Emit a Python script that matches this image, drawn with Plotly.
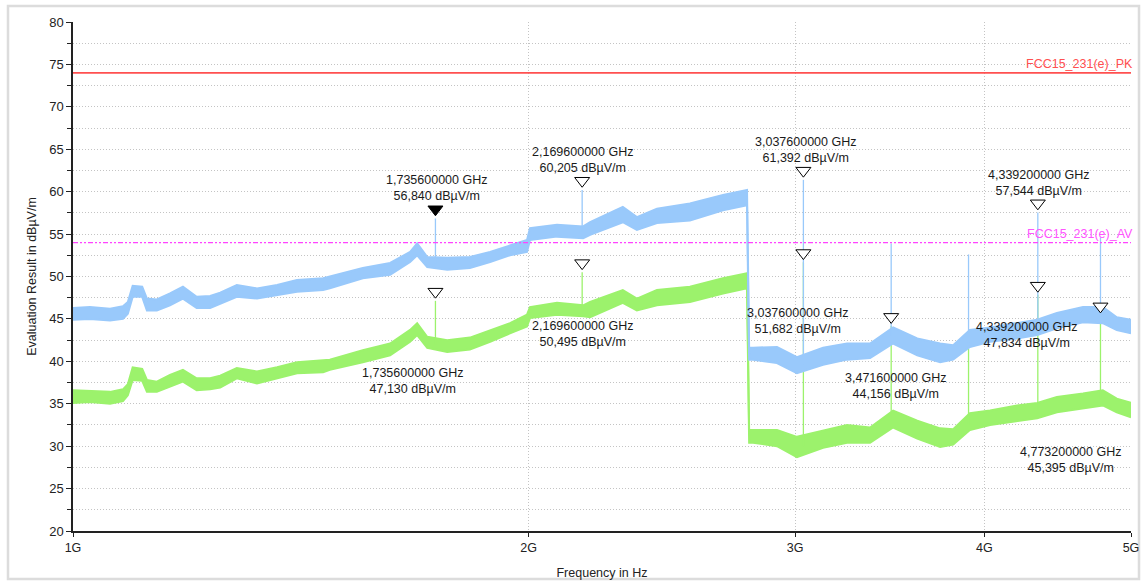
import math
import plotly.graph_objects as go

# ---------------- data ----------------
# Peak trace (blue): frequency in GHz with lower / upper edge of the noisy band in dBuV/m
pk_freq = [1.000, 1.026, 1.058, 1.079, 1.087, 1.095, 1.111, 1.119, 1.136, 1.159,
           1.182, 1.207, 1.232, 1.251, 1.283, 1.323, 1.364, 1.406, 1.463, 1.478,
           1.554, 1.620, 1.670, 1.688, 1.714, 1.767, 1.829, 1.886, 1.944, 1.995,
           2.004, 2.088, 2.173, 2.196, 2.308, 2.358, 2.431, 2.556, 2.688, 2.788,
           2.797, 2.814, 2.918, 3.008, 3.130, 3.246, 3.362, 3.482, 3.612, 3.740,
           3.815, 3.913, 4.035, 4.204, 4.335, 4.467, 4.648, 4.790, 4.893, 5.000]
pk_low = [44.9, 45.0, 44.8, 45.0, 45.6, 47.6, 47.6, 46.0, 46.0, 46.6,
          47.4, 46.3, 46.3, 46.8, 47.6, 47.4, 47.8, 48.2, 48.4, 48.6,
          49.8, 50.2, 51.7, 52.5, 51.1, 50.8, 51.0, 51.7, 52.5, 52.9,
          54.3, 54.7, 54.5, 54.9, 56.4, 55.5, 56.3, 56.6, 57.8, 58.4,
          40.2, 40.2, 39.8, 38.6, 39.6, 40.2, 40.4, 42.1, 40.7, 39.9,
          40.2, 41.7, 42.3, 42.7, 43.1, 43.9, 44.6, 44.5, 43.7, 43.3]
pk_high = [46.3, 46.4, 46.2, 46.5, 47.0, 48.9, 48.8, 47.4, 47.3, 48.0,
           48.8, 47.6, 47.7, 48.1, 49.0, 48.6, 49.0, 49.6, 49.8, 50.0,
           51.0, 51.6, 52.9, 53.9, 52.3, 52.2, 52.3, 52.9, 53.7, 54.3,
           55.7, 56.1, 55.9, 56.4, 58.2, 57.0, 58.0, 58.6, 59.6, 60.2,
           41.6, 41.6, 41.7, 40.5, 41.6, 42.1, 42.1, 44.0, 42.7, 42.1,
           41.9, 43.7, 44.0, 44.5, 44.9, 45.7, 46.4, 46.4, 45.2, 44.9]

# Average trace (green)
av_freq = pk_freq
av_low = [35.1, 35.2, 35.0, 35.3, 36.0, 37.8, 37.7, 36.4, 36.4, 37.0,
          37.6, 36.6, 36.7, 36.9, 38.0, 37.4, 38.0, 38.6, 38.7, 39.0,
          39.9, 40.7, 42.3, 43.1, 41.6, 41.1, 41.4, 42.3, 43.3, 44.1,
          45.1, 45.5, 45.3, 45.2, 46.9, 46.0, 46.6, 47.0, 48.0, 48.6,
          30.4, 30.4, 30.0, 28.7, 29.8, 30.4, 30.4, 32.2, 30.9, 29.9,
          30.2, 31.9, 32.5, 33.0, 33.3, 34.0, 34.5, 34.8, 34.0, 33.4]
av_high = [36.6, 36.5, 36.4, 36.7, 37.3, 39.3, 39.1, 37.8, 37.6, 38.4,
           39.0, 38.0, 38.0, 38.3, 39.2, 38.8, 39.3, 39.9, 40.1, 40.2,
           41.3, 42.1, 43.7, 44.5, 42.9, 42.5, 42.8, 43.7, 44.5, 45.5,
           46.4, 46.9, 46.6, 47.0, 48.4, 47.4, 48.4, 48.8, 49.8, 50.4,
           31.9, 31.9, 31.9, 31.1, 31.8, 32.5, 32.2, 34.2, 33.0, 32.1,
           32.0, 33.9, 34.2, 34.8, 35.1, 35.8, 36.2, 36.6, 35.6, 35.1]

# Narrow spikes: frequency GHz, base (inside band), top
pk_spike_freq = [1.7356, 2.1696, 3.0376, 3.4716, 3.9052, 4.3392, 4.7732]
pk_spike_base = [51.5, 55.2, 39.6, 43.0, 42.2, 44.0, 45.4]
pk_spike_top = [56.840, 60.205, 61.392, 53.9, 52.6, 57.544, 54.6]
av_spike_freq = [1.7356, 2.1696, 3.0376, 3.4716, 3.9052, 4.3392, 4.7732]
av_spike_base = [42.0, 45.9, 30.0, 33.0, 32.5, 34.2, 35.6]
av_spike_top = [47.130, 50.495, 51.682, 44.156, 41.5, 47.834, 45.395]

# Markers
pk_mark_freq = [1.7356, 2.1696, 3.0376, 4.3392]
pk_mark_val = [56.840, 60.205, 61.392, 57.544]
pk_mark_filled = [True, False, False, False]
av_mark_freq = [1.7356, 2.1696, 3.0376, 3.4716, 4.3392, 4.7732]
av_mark_val = [47.130, 50.495, 51.682, 44.156, 47.834, 45.395]

# Limit lines
limit_pk = 74.0
limit_av = 54.0
limit_pk_name = "FCC15_231(e)_PK"
limit_av_name = "FCC15_231(e)_AV"

x_tick_vals = [1, 2, 3, 4, 5]
x_tick_text = ["1G", "2G", "3G", "4G", "5G"]

# ---------------- styling ----------------
W, H = 1146, 582
ML, MR, MT, MB = 73, 15, 22, 51
YMIN, YMAX = 20, 80
BLUE = "#99c9fb"
GREEN = "#9cf26c"
FONT = "Liberation Sans, Arial, sans-serif"
MARKER_SIZE = 13
GRID = "#c4c4c4"
GRID_DASH = "1px,2px"
BAND_EDGE = 2
# label placement tweaks (pixels)
pk_lab_dx = [1, 0, 2, 1]
pk_lab_dy = [13, 13, 13, 13]
av_lab_dx = [-23, 0, -6, 4, -11, -30]
av_lab_dy = [-63, -45, -42, -43, -23, -127]

plot_h = H - MT - MB
plot_w = W - ML - MR
px_per_db = plot_h / (YMAX - YMIN)
tip_px = 1.414 * MARKER_SIZE / 2
tip_db = tip_px / px_per_db


def ghz(v):
    return [f * 1e9 for f in v]


def lg(f_ghz):
    # annotation x position on a log axis is given in log10 units
    return math.log10(f_ghz * 1e9)


def spike_xy(freqs, bases, tops):
    xs, ys = [], []
    for f, b, t in zip(freqs, bases, tops):
        xs += [f * 1e9, f * 1e9, None]
        ys += [b, t, None]
    return xs, ys


def fmt(v, d):
    return f"{v:.{d}f}".replace(".", ",")


fig = go.Figure()


def add_band(freq, low, high, color):
    fig.add_trace(go.Scatter(x=ghz(freq), y=low, mode="lines",
                             line=dict(color=color, width=BAND_EDGE), hoverinfo="skip",
                             showlegend=False))
    fig.add_trace(go.Scatter(x=ghz(freq), y=high, mode="lines",
                             line=dict(color=color, width=BAND_EDGE), fill="tonexty",
                             fillcolor=color, hoverinfo="skip", showlegend=False))


# average (green) first, peak (blue) on top
add_band(av_freq, av_low, av_high, GREEN)
sx, sy = spike_xy(av_spike_freq, av_spike_base, av_spike_top)
fig.add_trace(go.Scatter(x=sx, y=sy, mode="lines", line=dict(color=GREEN, width=1.3),
                         showlegend=False, hoverinfo="skip"))
add_band(pk_freq, pk_low, pk_high, BLUE)
sx, sy = spike_xy(pk_spike_freq, pk_spike_base, pk_spike_top)
fig.add_trace(go.Scatter(x=sx, y=sy, mode="lines", line=dict(color=BLUE, width=1.3),
                         showlegend=False, hoverinfo="skip"))

# limit lines
fig.add_trace(go.Scatter(x=[1e9, 5e9], y=[limit_pk, limit_pk], mode="lines",
                         line=dict(color="#ff5050", width=1.6), showlegend=False))
fig.add_trace(go.Scatter(x=[1e9, 5e9], y=[limit_av, limit_av], mode="lines",
                         line=dict(color="#ff44ff", width=1.3, dash="5px,2px,2px,2px,2px,2px"),
                         showlegend=False))

# markers (triangle tip on the value)
all_f = pk_mark_freq + av_mark_freq
all_v = pk_mark_val + av_mark_val
all_fill = pk_mark_filled + [False] * len(av_mark_freq)
fig.add_trace(go.Scatter(
    x=ghz(all_f), y=[v + tip_db for v in all_v], mode="markers",
    marker=dict(symbol="triangle-down", size=MARKER_SIZE,
                color=["black" if f else "white" for f in all_fill],
                line=dict(color="black", width=1)),
    showlegend=False, hoverinfo="skip"))

annotations = []
for f, v, dx, dy in zip(pk_mark_freq, pk_mark_val, pk_lab_dx, pk_lab_dy):
    annotations.append(dict(x=lg(f), y=v, xref="x", yref="y", showarrow=False,
                            xanchor="center", yanchor="bottom", xshift=dx, yshift=dy,
                            text=f"{fmt(f, 9)} GHz<br>{fmt(v, 3)} dBµV/m",
                            font=dict(size=12.5, color="#1a1a1a", family=FONT)))
for f, v, dx, dy in zip(av_mark_freq, av_mark_val, av_lab_dx, av_lab_dy):
    annotations.append(dict(x=lg(f), y=v, xref="x", yref="y", showarrow=False,
                            xanchor="center", yanchor="top", xshift=dx, yshift=dy,
                            text=f"{fmt(f, 9)} GHz<br>{fmt(v, 3)} dBµV/m",
                            font=dict(size=12.5, color="#1a1a1a", family=FONT)))
annotations.append(dict(x=lg(5), y=limit_pk, xref="x", yref="y", showarrow=False,
                        xanchor="right", yanchor="bottom", xshift=4, yshift=0,
                        text=limit_pk_name, font=dict(size=12.5, color="#ff5050", family=FONT)))
annotations.append(dict(x=lg(5), y=limit_av, xref="x", yref="y", showarrow=False,
                        xanchor="right", yanchor="bottom", xshift=4, yshift=0,
                        text=limit_av_name, font=dict(size=12.5, color="#ff55ff", family=FONT)))

shapes = [dict(type="rect", xref="paper", yref="paper",
               x0=(8 - ML) / plot_w, x1=(1139 - ML) / plot_w,
               y0=-(579 - (H - MB)) / plot_h, y1=((H - MB) - 6) / plot_h,
               line=dict(color="#dcdcdc", width=2.5), layer="below")]

fig.update_layout(
    width=W, height=H,
    margin=dict(l=ML, r=MR, t=MT, b=MB, autoexpand=False),
    paper_bgcolor="white", plot_bgcolor="white",
    font=dict(family=FONT, size=12, color="#222"),
    annotations=annotations, shapes=shapes,
    showlegend=False,
)
fig.update_xaxes(
    type="log", range=[9, math.log10(5e9)], automargin=False,
    tickvals=ghz(x_tick_vals), ticktext=x_tick_text,
    showgrid=True, gridcolor=GRID, griddash=GRID_DASH, gridwidth=1,
    showline=True, linecolor="#222", linewidth=1.5,
    ticks="outside", ticklen=4, tickcolor="#222",
    tickfont=dict(size=12.5, color="#222"),
    title=dict(text="Frequency in Hz", font=dict(size=12.5, color="#222"), standoff=14),
    zeroline=False,
)
fig.update_yaxes(
    range=[YMIN, YMAX], dtick=5, tick0=20, automargin=False,
    showgrid=True, gridcolor=GRID, griddash=GRID_DASH, gridwidth=1,
    minor=dict(dtick=2.5, showgrid=True, gridcolor=GRID, griddash=GRID_DASH,
               ticks="outside", ticklen=4, tickcolor="#222"),
    showline=True, linecolor="#222", linewidth=1.5,
    ticks="outside", ticklen=5, tickcolor="#222",
    tickfont=dict(size=13, color="#222"),
    title=dict(text="Evaluation Result in dBµV/m", font=dict(size=12.5, color="#222"), standoff=10),
    zeroline=False,
)

fig.write_html("out.html")
